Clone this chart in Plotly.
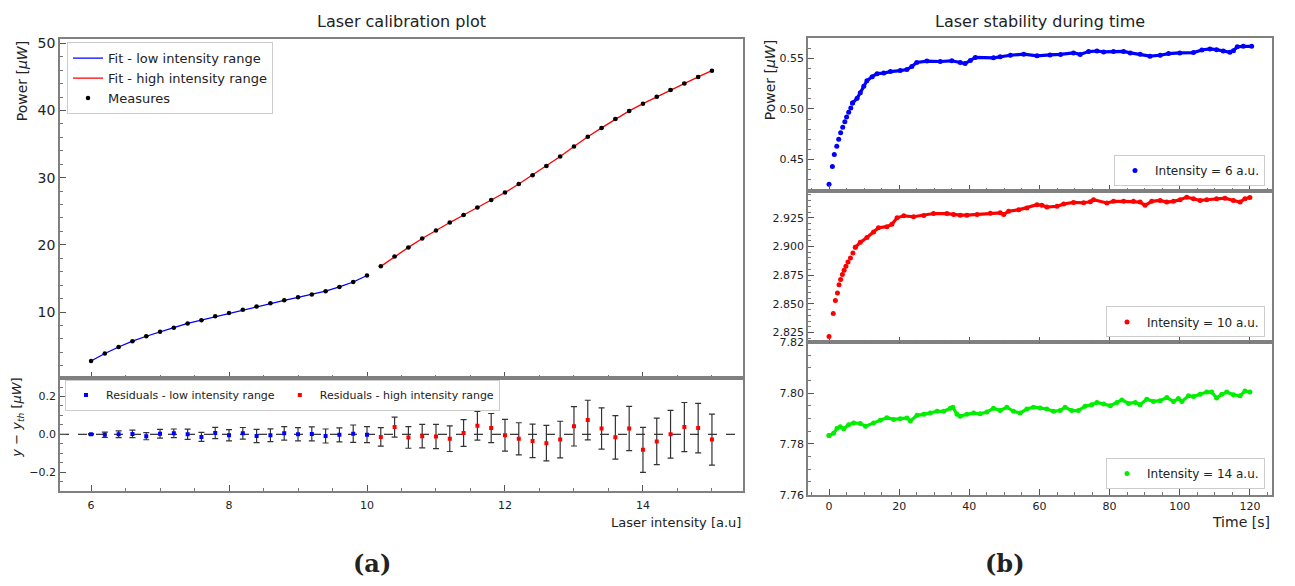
import plotly.graph_objects as go

# ---------------- data: calibration ----------------
intensity_low = [6.0, 6.2, 6.4, 6.6, 6.8, 7.0, 7.2, 7.4, 7.6, 7.8, 8.0, 8.2, 8.4, 8.6, 8.8,
                 9.0, 9.2, 9.4, 9.6, 9.8, 10.0]
power_low = [2.71, 3.83, 4.80, 5.67, 6.40, 7.08, 7.67, 8.30, 8.79, 9.37, 9.85, 10.34, 10.83,
             11.31, 11.75, 12.19, 12.62, 13.11, 13.74, 14.47, 15.44]
intensity_high = [10.2, 10.4, 10.6, 10.8, 11.0, 11.2, 11.4, 11.6, 11.8, 12.0, 12.2, 12.4, 12.6,
                  12.8, 13.0, 13.2, 13.4, 13.6, 13.8, 14.0, 14.2, 14.4, 14.6, 14.8, 15.0]
power_high = [16.80, 18.26, 19.62, 20.94, 22.15, 23.32, 24.44, 25.55, 26.67, 27.79, 29.05,
              30.37, 31.73, 33.14, 34.64, 36.10, 37.41, 38.73, 39.94, 41.01, 42.03, 43.05,
              44.03, 45.00, 45.92]
resid_low = [0.000, -0.003, 0.000, 0.002, -0.010, 0.003, 0.005, 0.000, -0.014, 0.007, -0.005,
             0.005, -0.009, -0.005, 0.005, 0.000, 0.002, -0.009, -0.003, 0.003, -0.002]
err_low = [0.003, 0.014, 0.018, 0.020, 0.019, 0.023, 0.023, 0.027, 0.024, 0.030, 0.030, 0.031,
           0.035, 0.034, 0.036, 0.035, 0.037, 0.037, 0.037, 0.046, 0.042]
resid_high = [-0.014, 0.038, -0.017, -0.010, -0.012, -0.023, 0.007, 0.045, 0.033, -0.005,
              -0.024, -0.035, -0.047, -0.028, 0.042, 0.075, 0.031, -0.016, 0.031, -0.082,
              -0.038, 0.000, 0.038, 0.033, -0.028]
err_high = [0.049, 0.053, 0.057, 0.062, 0.064, 0.068, 0.071, 0.076, 0.077, 0.084, 0.085, 0.089,
            0.094, 0.097, 0.104, 0.105, 0.109, 0.115, 0.117, 0.119, 0.123, 0.126, 0.130, 0.131,
            0.135]

# ---------------- data: stability ----------------
t6 = [0, 0.95, 1.5, 2.2, 2.75, 3.3, 3.9, 4.5, 5.0, 5.6, 6.2, 6.7, 8.0, 8.9, 9.9, 10.8, 12.3,
      13.7, 15.6, 17.5, 20.3, 22.2, 23.6, 25, 27.9, 31.7, 35, 37.4, 38.8, 40.3, 41.7, 46.9,
      48.8, 51.7, 55.5, 59.3, 63, 66, 69.7, 71.6, 74, 76.4, 78.3, 81.1, 84, 85.9, 88.7, 91.5,
      94.4, 96.8, 100, 103.9, 106.3, 108.6, 110.5, 112.4, 114.3, 115.3, 116.4, 118.1, 120.5]
p6 = [0.4255, 0.443, 0.455, 0.463, 0.470, 0.4765, 0.482, 0.4874, 0.492, 0.4968, 0.501, 0.5058,
      0.5106, 0.516, 0.5226, 0.528, 0.532, 0.535, 0.5355, 0.537, 0.538, 0.539, 0.542, 0.546,
      0.5474, 0.547, 0.5477, 0.546, 0.545, 0.548, 0.551, 0.5506, 0.5516, 0.5532, 0.5542,
      0.5526, 0.5535, 0.554, 0.5555, 0.554, 0.5568, 0.5574, 0.5565, 0.5568, 0.557, 0.5555,
      0.5542, 0.5523, 0.5532, 0.5548, 0.5555, 0.5558, 0.5584, 0.5594, 0.5587, 0.5574, 0.5561,
      0.5577, 0.5616, 0.562, 0.562]
t10 = [0, 1.2, 1.8, 2.4, 2.85, 3.3, 3.8, 4.3, 4.8, 5.4, 6.1, 6.8, 7.5, 8.9, 10.8, 12.7, 14.1,
       16.5, 17.9, 19.4, 21.3, 24.1, 27, 29.8, 33.6, 35.5, 37.4, 39.3, 42.2, 46, 48.8, 49.8,
       51.2, 54.1, 56.4, 59.3, 60.7, 62.1, 65, 66.9, 69.7, 72.6, 74.5, 75.4, 79.2, 81.1, 84,
       86.8, 88.7, 90.1, 92, 94.4, 96.3, 98.2, 100.1, 102, 103.9, 105.8, 107.7, 110.5, 112.9,
       115.3, 117.2, 118.6, 120]
p10 = [2.8216, 2.8416, 2.853, 2.8596, 2.8667, 2.8713, 2.8756, 2.8793, 2.8827, 2.8864, 2.890,
       2.8944, 2.8993, 2.9036, 2.9079, 2.9127, 2.9164, 2.9173, 2.9193, 2.925, 2.9267, 2.9259,
       2.927, 2.9287, 2.9287, 2.9279, 2.9273, 2.9273, 2.9279, 2.929, 2.9293, 2.9279, 2.9307,
       2.9319, 2.9336, 2.9364, 2.9359, 2.9344, 2.935, 2.937, 2.9384, 2.9381, 2.939, 2.9407,
       2.9379, 2.9393, 2.9393, 2.9393, 2.9387, 2.9359, 2.9393, 2.9401, 2.9387, 2.9393, 2.9407,
       2.943, 2.9416, 2.9401, 2.9407, 2.9416, 2.9421, 2.9401, 2.9387, 2.9416, 2.9427]
t14 = [0, 1.3, 2.3, 3.2, 4.2, 5.6, 7, 8.9, 10.4, 12.7, 14.6, 16.5, 18.4, 20.3, 22.2, 23.2, 25.1,
       27, 28.9, 30.8, 32.7, 34.6, 35.3, 36.5, 37.4, 39.3, 41.2, 43.1, 45, 46.9, 48.8, 50.7,
       52.6, 54.5, 56.4, 58.3, 60.2, 62.1, 64, 65.9, 67.3, 69.2, 71.1, 73, 74.9, 76.4, 78.3,
       80.2, 82.1, 83.5, 85.4, 87.3, 88.7, 90.6, 92.5, 94.4, 96.3, 98.2, 99.6, 100.6, 102.5,
       103.9, 105.8, 107.7, 109.1, 110.5, 112, 113.4, 115.3, 117.2, 118.6, 120]
p14 = [7.7833, 7.7842, 7.7862, 7.7868, 7.786, 7.7876, 7.7883, 7.7881, 7.787, 7.7883, 7.7894,
       7.7904, 7.7897, 7.79, 7.7903, 7.7891, 7.7913, 7.7917, 7.7922, 7.7929, 7.7929, 7.7941,
       7.7945, 7.7917, 7.7909, 7.7917, 7.7922, 7.7919, 7.7926, 7.7941, 7.7932, 7.7945, 7.7929,
       7.7922, 7.7938, 7.7945, 7.7942, 7.7938, 7.7929, 7.7932, 7.7945, 7.7932, 7.7932, 7.7949,
       7.7955, 7.7964, 7.7958, 7.7951, 7.7964, 7.7974, 7.796, 7.7964, 7.7955, 7.7977, 7.7968,
       7.7971, 7.7983, 7.7968, 7.7979, 7.7968, 7.799, 7.7987, 7.7996, 7.8005, 7.8005, 7.7981,
       7.7996, 7.8005, 7.7994, 7.799, 7.8009, 7.8005]

FONT = "DejaVu Sans"
TXT = "#222222"
SPINE = "#808080"

fig = go.Figure()

# ---- main calibration panel ----
fig.add_trace(go.Scatter(x=intensity_low, y=power_low, mode="lines", name="Fit - low intensity range",
                         line=dict(color="#0000ff", width=1.3), xaxis="x", yaxis="y", legend="legend"))
fig.add_trace(go.Scatter(x=intensity_high, y=power_high, mode="lines", name="Fit - high intensity range",
                         line=dict(color="#ff0000", width=1.3), xaxis="x", yaxis="y", legend="legend"))
fig.add_trace(go.Scatter(x=intensity_low + intensity_high, y=power_low + power_high, mode="markers",
                         name="Measures", marker=dict(color="black", size=4.5),
                         error_y=dict(type="data", array=err_low + err_high, color="black",
                                      thickness=1, width=2),
                         xaxis="x", yaxis="y", legend="legend"))

# ---- residuals ----
fig.add_trace(go.Scatter(x=intensity_low, y=resid_low, mode="markers", name="Residuals - low intensity range",
                         marker=dict(color="#0000ff", size=4, symbol="square"),
                         error_y=dict(type="data", array=err_low, color="#333333", thickness=1.2, width=3),
                         xaxis="x2", yaxis="y2", legend="legend2"))
fig.add_trace(go.Scatter(x=intensity_high, y=resid_high, mode="markers", name="Residuals - high intensity range",
                         marker=dict(color="#ff0000", size=4, symbol="square"),
                         error_y=dict(type="data", array=err_high, color="#333333", thickness=1.2, width=3),
                         xaxis="x2", yaxis="y2", legend="legend2"))

# ---- stability panels ----
series = [
    (t6, p6, "#0000ff", "Intensity = 6 a.u.", "x3", "y3", "legend3", 12),
    (t10, p10, "#ff0000", "Intensity = 10 a.u.", "x4", "y4", "legend4", 13),
    (t14, p14, "#00ee00", "Intensity = 14 a.u.", "x5", "y5", "legend5", 1),
]
for t, p, col, name, xa, ya, lg, split in series:
    fig.add_trace(go.Scatter(x=t[:split], y=p[:split], mode="markers", name=name,
                             marker=dict(color=col, size=5), xaxis=xa, yaxis=ya, legend=lg))
    fig.add_trace(go.Scatter(x=t[split - 1:], y=p[split - 1:], mode="lines+markers", showlegend=False,
                             line=dict(color=col, width=3.2), marker=dict(color=col, size=5),
                             xaxis=xa, yaxis=ya))

# dashed zero line in residual panel
fig.add_shape(type="line", xref="x2 domain", x0=0, x1=1, yref="y2", y0=0, y1=0,
              line=dict(color="black", width=1, dash="dash"), layer="below")


def ax(domain, anchor, rng, dtick, minor, showlabels=True, fmt=None, size=11, tick0=0, standoff=0):
    d = dict(domain=domain, anchor=anchor, range=rng, dtick=dtick, tick0=tick0,
             ticks="inside", ticklen=6, tickwidth=1, tickcolor="#555555",
             minor=dict(dtick=minor, tick0=tick0, ticks="inside", ticklen=3, tickcolor="#777777"),
             showline=True, linecolor=SPINE, linewidth=1.5, mirror=True,
             showgrid=False, zeroline=False, showticklabels=showlabels,
             tickfont=dict(family=FONT, size=size, color=TXT))
    if fmt:
        d["tickformat"] = fmt
    if standoff:
        d["ticklabelstandoff"] = standoff
    return d


W, H = 1295, 586
xl = [60 / W, 743 / W]
xr = [808 / W, 1272 / W]

fig.update_layout(
    width=W, height=H,
    margin=dict(l=0, r=0, t=0, b=0),
    paper_bgcolor="white", plot_bgcolor="white",
    font=dict(family=FONT, color=TXT),
    xaxis=ax(xl, "y", [5.55, 15.45], 2, 0.5, showlabels=False),
    yaxis=ax([1 - 380 / H, 1 - 34 / H], "x", [0.25, 50.6], 10, 2, size=14),
    xaxis2=ax(xl, "y2", [5.55, 15.45], 2, 0.5, standoff=3),
    yaxis2=ax([1 - 496 / H, 1 - 380 / H], "x2", [-0.3, 0.3], 0.2, 0.05, fmt=".1f"),
    xaxis3=ax(xr, "y3", [-6, 126.3], 20, 5, showlabels=False),
    yaxis3=ax([1 - 189 / H, 1 - 33 / H], "x3", [0.419, 0.570], 0.05, 0.01, fmt=".2f"),
    xaxis4=ax(xr, "y4", [-6, 126.3], 20, 5, showlabels=False),
    yaxis4=ax([1 - 344 / H, 1 - 189 / H], "x4", [2.8165, 2.9485], 0.025, 0.005, fmt=".3f"),
    xaxis5=ax(xr, "y5", [-6, 126.3], 20, 5),
    yaxis5=ax([1 - 500 / H, 1 - 344 / H], "x5", [7.7599, 7.8201], 0.02, 0.005, fmt=".2f"),
    legend=dict(x=67 / W, y=1 - 37 / H, xanchor="left", yanchor="top",
                bgcolor="white", bordercolor="#cccccc", borderwidth=1,
                font=dict(family=FONT, size=13, color=TXT), tracegroupgap=0),
    legend2=dict(x=65 / W, y=1 - 382 / H, xanchor="left", yanchor="top", orientation="h",
                 bgcolor="white", bordercolor="#cccccc", borderwidth=1,
                 font=dict(family=FONT, size=11, color=TXT)),
    legend3=dict(x=1265 / W, y=1 - 184 / H, xanchor="right", yanchor="bottom",
                 bgcolor="white", bordercolor="#cccccc", borderwidth=1,
                 font=dict(family=FONT, size=12, color=TXT)),
    legend4=dict(x=1265 / W, y=1 - 339 / H, xanchor="right", yanchor="bottom",
                 bgcolor="white", bordercolor="#cccccc", borderwidth=1,
                 font=dict(family=FONT, size=12, color=TXT)),
    legend5=dict(x=1265 / W, y=1 - 494 / H, xanchor="right", yanchor="bottom",
                 bgcolor="white", bordercolor="#cccccc", borderwidth=1,
                 font=dict(family=FONT, size=12, color=TXT)),
)


def ann(text, x, y, size, xanchor="center", yanchor="middle", angle=0, family=FONT):
    fig.add_annotation(text=text, x=x / W, y=1 - y / H, xref="paper", yref="paper",
                       xanchor=xanchor, yanchor=yanchor, textangle=angle, showarrow=False,
                       font=dict(family=family, size=size, color=TXT))


ann("Laser calibration plot", 401, 16, 16)
ann("Laser stability during time", 1040, 16, 16)
ann("Power [<i>µW</i>]", 22, 77, 14, angle=-90)
ann("<i>y</i> − <i>y<sub>th</sub></i> [<i>µW</i>]", 18, 421, 13, angle=-90)
ann("Power [<i>µW</i>]", 770, 76, 14, angle=-90)
ann("Laser intensity [a.u]", 743, 528, 13, xanchor="right")
ann("Time [s]", 1272, 528, 14, xanchor="right")
ann("<b>(a)</b>", 372, 570, 24, family="DejaVu Serif")
ann("<b>(b)</b>", 1005, 570, 24, family="DejaVu Serif")

fig.write_html("out.html")
